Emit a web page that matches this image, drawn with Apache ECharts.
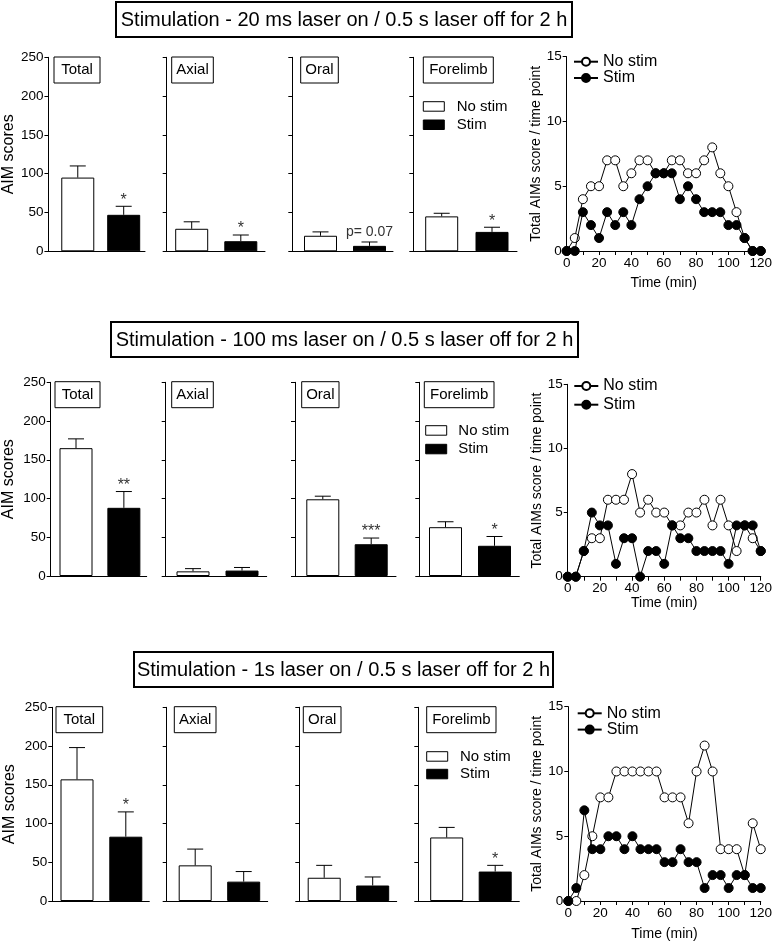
<!DOCTYPE html>
<html><head><meta charset="utf-8">
<script src="https://cdn.jsdelivr.net/npm/echarts@6/dist/echarts.min.js"></script>
<style>html,body{margin:0;padding:0;background:#fff}#c{width:775px;height:945px}</style>
</head><body><div id="c"></div>
<script>
const FONT = '"Liberation Sans", Arial, Helvetica, sans-serif';

// ---------------- data ----------------
const rowTitles = [
  'Stimulation - 20 ms laser on / 0.5 s laser off for 2 h',
  'Stimulation - 100 ms laser on / 0.5 s laser off for 2 h',
  'Stimulation - 1s laser on / 0.5 s laser off for 2 h'
];
const panels = ['Total', 'Axial', 'Oral', 'Forelimb'];
const groups = ['No stim', 'Stim'];
const aimTicks = [0, 50, 100, 150, 200, 250];
const lineTicks = [0, 5, 10, 15];
const timeTicks = [0, 20, 40, 60, 80, 100, 120];

// bar means and tops of the error bars (mean + SEM)
const r1NoStimMean = [95, 29, 20, 45];
const r1NoStimTop  = [110, 38, 25, 49];
const r1StimMean   = [47, 13, 7, 25];
const r1StimTop    = [58, 21, 12, 31];
const r1Sig        = ['*', '*', 'p= 0.07', '*'];

const r2NoStimMean = [165, 6, 99, 63];
const r2NoStimTop  = [177, 9.5, 103, 70];
const r2StimMean   = [88, 7, 41, 39];
const r2StimTop    = [109, 11, 49, 51];
const r2Sig        = ['**', '', '***', '*'];

const r3NoStimMean = [157, 46, 30, 82];
const r3NoStimTop  = [198, 67, 46, 95];
const r3StimMean   = [83, 25, 20, 38];
const r3StimTop    = [115, 38, 31, 46];
const r3Sig        = ['*', '', '', '*'];

// time course
const time = [0, 5, 10, 15, 20, 25, 30, 35, 40, 45, 50, 55, 60, 65, 70, 75, 80, 85, 90, 95, 100, 105, 110, 115, 120];
const r1NoStimLine = [0, 1, 4, 5, 5, 7, 7, 5, 6, 7, 7, 6, 6, 7, 7, 6, 6, 7, 8, 6, 5, 3, 1, 0, 0];
const r1StimLine   = [0, 0, 3, 2, 1, 3, 2, 3, 2, 4, 5, 6, 6, 6, 4, 5, 4, 3, 3, 3, 2, 2, 1, 0, 0];
const r2NoStimLine = [0, 0, 2, 3, 3, 6, 6, 6, 8, 5, 6, 5, 5, 4, 4, 5, 5, 6, 4, 6, 4, 2, 4, 3, 2];
const r2StimLine   = [0, 0, 2, 5, 4, 4, 1, 3, 3, 0, 2, 2, 1, 4, 3, 3, 2, 2, 2, 2, 1, 4, 4, 4, 2];
const r3NoStimLine = [0, 0, 2, 5, 8, 8, 10, 10, 10, 10, 10, 10, 8, 8, 8, 6, 10, 12, 10, 4, 4, 4, 2, 6, 4];
const r3StimLine   = [0, 1, 7, 4, 4, 5, 5, 4, 5, 4, 4, 4, 3, 3, 4, 3, 3, 1, 2, 2, 1, 2, 2, 1, 1];

const rows = [
  {title: rowTitles[0], noMean: r1NoStimMean, noTop: r1NoStimTop, stMean: r1StimMean, stTop: r1StimTop, sig: r1Sig, noLine: r1NoStimLine, stLine: r1StimLine},
  {title: rowTitles[1], noMean: r2NoStimMean, noTop: r2NoStimTop, stMean: r2StimMean, stTop: r2StimTop, sig: r2Sig, noLine: r2NoStimLine, stLine: r2StimLine},
  {title: rowTitles[2], noMean: r3NoStimMean, noTop: r3NoStimTop, stMean: r3StimMean, stTop: r3StimTop, sig: r3Sig, noLine: r3NoStimLine, stLine: r3StimLine}
];

// ---------------- layout ----------------
const layout = [
  {barTop: 57.3, barBot: 251.3,
   axes: [[43, 145, 74, 122.5], [166.7, 265, 191.7, 240.8], [292.3, 393, 320.5, 369.5], [413.3, 517, 441.7, 492]],
   labs: [[54, 100], [171.7, 213.3], [300.7, 338.3], [423.3, 493.3]], labY: 57,
   legX: 423.3, legY: [101.7, 120], legTextX: 456.7, aimGap: 27,
   lineL: 566.7, lineR: 762.3, lineTop: 56.7, lineBot: 251,
   legLeft: 573, legTop: 53.7, legGap: 0.3, timeGap: 25, box: [116, 2, 456, 35]},
  {barTop: 382.3, barBot: 576,
   axes: [[50, 146.7, 75.5, 123.7], [165.7, 266.7, 193, 242], [295, 396, 322.8, 371.2], [419.3, 519.3, 445.5, 494.5]],
   labs: [[55, 100], [171.7, 213.3], [301.7, 339], [424.3, 494]], labY: 381.7,
   legX: 425.7, legY: [425.7, 444.3], legTextX: 458.3, aimGap: 33.7,
   lineL: 567.7, lineR: 763.7, lineTop: 384.3, lineBot: 576.7,
   legLeft: 573.3, legTop: 378, legGap: 2.7, timeGap: 18, box: [111, 322, 467, 35]},
  {barTop: 707.3, barBot: 901,
   axes: [[52.3, 149.3, 77, 125.8], [166.7, 267.7, 195.2, 243.7], [299.3, 396.7, 324.2, 372.7], [418.3, 519.3, 446.7, 495.2]],
   labs: [[56, 102.7], [174.3, 216], [303.3, 341], [426.7, 496]], labY: 706.7,
   legX: 426.7, legY: [751.7, 769.3], legTextX: 460, aimGap: 35,
   lineL: 568.3, lineR: 764.3, lineTop: 706.7, lineBot: 901,
   legLeft: 576.7, legTop: 705.3, legGap: 0.3, timeGap: 26, box: [134, 652, 419, 35]}
];

const AX = {color: '#000', width: 1};
const grid = [], xAxis = [], yAxis = [], series = [], graphic = [], legend = [];

// line charts first (so legends pick up line styling)
rows.forEach((row, r) => {
  const L = layout[r];
  const gi = grid.length;
  grid.push({left: L.lineL, top: L.lineTop, width: L.lineR - L.lineL, height: L.lineBot - L.lineTop});
  xAxis.push({gridIndex: gi, type: 'value', min: timeTicks[0], max: timeTicks[timeTicks.length - 1], interval: timeTicks[1] - timeTicks[0],
    name: 'Time (min)', nameLocation: 'middle', nameGap: L.timeGap,
    nameTextStyle: {color: '#000', fontSize: 14, fontFamily: FONT},
    axisLine: {onZero: false, lineStyle: AX}, axisTick: {length: 4, lineStyle: AX},
    minorTick: {show: true, splitNumber: 2, length: 4, lineStyle: AX},
    splitLine: {show: false}, minorSplitLine: {show: false},
    axisLabel: {color: '#000', fontSize: 13.5, margin: 5, fontFamily: FONT}});
  yAxis.push({gridIndex: gi, type: 'value', min: lineTicks[0], max: lineTicks[lineTicks.length - 1], interval: lineTicks[1] - lineTicks[0],
    name: 'Total AIMs score / time point', nameLocation: 'middle', nameGap: 21,
    nameTextStyle: {color: '#000', fontSize: 14, fontFamily: FONT},
    axisLine: {onZero: false, lineStyle: AX}, axisTick: {length: 4, lineStyle: AX},
    splitLine: {show: false},
    axisLabel: {color: '#000', fontSize: 13.5, margin: 5, fontFamily: FONT}});
  series.push({type: 'line', name: groups[0], xAxisIndex: gi, yAxisIndex: gi,
    data: time.map((t, i) => [t, row.noLine[i]]), symbol: 'circle', symbolSize: 9, showAllSymbol: true,
    itemStyle: {color: '#fff', borderColor: '#000', borderWidth: 1}, lineStyle: {color: '#000', width: 1}, z: 3});
  series.push({type: 'line', name: groups[1], xAxisIndex: gi, yAxisIndex: gi,
    data: time.map((t, i) => [t, row.stLine[i]]), symbol: 'circle', symbolSize: 9, showAllSymbol: true,
    itemStyle: {color: '#000', borderColor: '#000', borderWidth: 1}, lineStyle: {color: '#000', width: 1}, z: 4});
  legend.push({left: L.legLeft, top: L.legTop, orient: 'vertical', itemWidth: 24, itemHeight: 10, itemGap: L.legGap,
    padding: 0, selectedMode: false, data: groups.slice(),
    textStyle: {fontSize: 16, fontFamily: FONT, color: '#000', lineHeight: 14}});
});

// bar panels
rows.forEach((row, r) => {
  const L = layout[r];
  panels.forEach((p, k) => {
    const [A, E, c1, c2] = L.axes[k];
    const step = c2 - c1;
    const xmin = 1 - (c1 - A) / step, xmax = 2 + (E - c2) / step;
    const gi = grid.length;
    grid.push({left: A, top: L.barTop, width: E - A, height: L.barBot - L.barTop});
    xAxis.push({gridIndex: gi, type: 'value', min: xmin, max: xmax,
      axisLine: {onZero: false, lineStyle: AX}, axisTick: {show: false}, axisLabel: {show: false}, splitLine: {show: false}});
    yAxis.push({gridIndex: gi, type: 'value', min: aimTicks[0], max: aimTicks[aimTicks.length - 1], interval: aimTicks[1] - aimTicks[0],
      name: k === 0 ? 'AIM scores' : '', nameLocation: 'middle', nameGap: L.aimGap,
      nameTextStyle: {color: '#000', fontSize: 16, fontFamily: FONT},
      axisLine: {onZero: false, lineStyle: AX}, axisTick: {length: 4, lineStyle: AX}, splitLine: {show: false},
      axisLabel: {show: k === 0, color: '#000', fontSize: 13.5, margin: 5, fontFamily: FONT}});
    series.push({type: 'bar', name: p, xAxisIndex: gi, yAxisIndex: gi, barWidth: 33,
      data: [
        {value: [1, row.noMean[k]], itemStyle: {color: '#fff', borderColor: '#000', borderWidth: 1}},
        {value: [2, row.stMean[k]], itemStyle: {color: '#000', borderColor: '#000', borderWidth: 1}}
      ]});
    const sigs = ['', row.sig[k]];
    series.push({type: 'custom', name: p + ' SEM', xAxisIndex: gi, yAxisIndex: gi, clip: false, z: 5,
      encode: {x: 0, y: [1, 2]},
      data: [[1, row.noMean[k], row.noTop[k]], [2, row.stMean[k], row.stTop[k]]],
      renderItem: (params, api) => {
        const x = api.value(0), m = api.value(1), t = api.value(2);
        const p0 = api.coord([x, m]), p1 = api.coord([x, t]);
        const children = [
          {type: 'line', shape: {x1: p0[0], y1: p0[1], x2: p1[0], y2: p1[1]}, style: {stroke: '#000', lineWidth: 1}},
          {type: 'line', shape: {x1: p1[0] - 8, y1: p1[1], x2: p1[0] + 8, y2: p1[1]}, style: {stroke: '#000', lineWidth: 1}}
        ];
        const s = sigs[params.dataIndex];
        if (s) {
          const star = s[0] === '*';
          children.push({type: 'text', x: p1[0], y: p1[1] - (star ? 6 : 10),
            style: {text: s, fill: '#333', font: (star ? 16 : 14) + 'px ' + FONT, align: 'center', verticalAlign: 'middle'}});
        }
        return {type: 'group', children};
      }});
    // panel label box
    const [bx0, bx1] = L.labs[k];
    graphic.push({type: 'rect', shape: {x: bx0, y: L.labY, width: bx1 - bx0, height: 26},
      style: {fill: '#fff', stroke: '#000', lineWidth: 1}, z: 10});
    graphic.push({type: 'text', x: (bx0 + bx1) / 2, y: L.labY + 13,
      style: {text: p, fill: '#000', font: '15px ' + FONT, align: 'center', verticalAlign: 'middle'}, z: 11});
  });
  // bar legend
  groups.forEach((g, i) => {
    graphic.push({type: 'rect', shape: {x: L.legX, y: L.legY[i], width: 21, height: 9.5},
      style: {fill: i === 0 ? '#fff' : '#000', stroke: '#000', lineWidth: 1}, z: 10});
    graphic.push({type: 'text', x: L.legTextX, y: L.legY[i] + 4.8,
      style: {text: g, fill: '#000', font: '15px ' + FONT, align: 'left', verticalAlign: 'middle'}, z: 11});
  });
  // title box
  const [tx, ty, tw, th] = L.box;
  graphic.push({type: 'rect', shape: {x: tx, y: ty, width: tw, height: th},
    style: {fill: '#fff', stroke: '#000', lineWidth: 2}, z: 10});
  graphic.push({type: 'text', x: tx + tw / 2, y: ty + th / 2 + 0.5,
    style: {text: row.title, fill: '#000', font: '20px ' + FONT, align: 'center', verticalAlign: 'middle'}, z: 11});
});

const chart = echarts.init(document.getElementById('c'), null, {renderer: 'canvas'});
chart.setOption({
  animation: false,
  backgroundColor: '#fff',
  textStyle: {fontFamily: FONT},
  grid, xAxis, yAxis, series, legend, graphic
});
</script>
</body></html>
